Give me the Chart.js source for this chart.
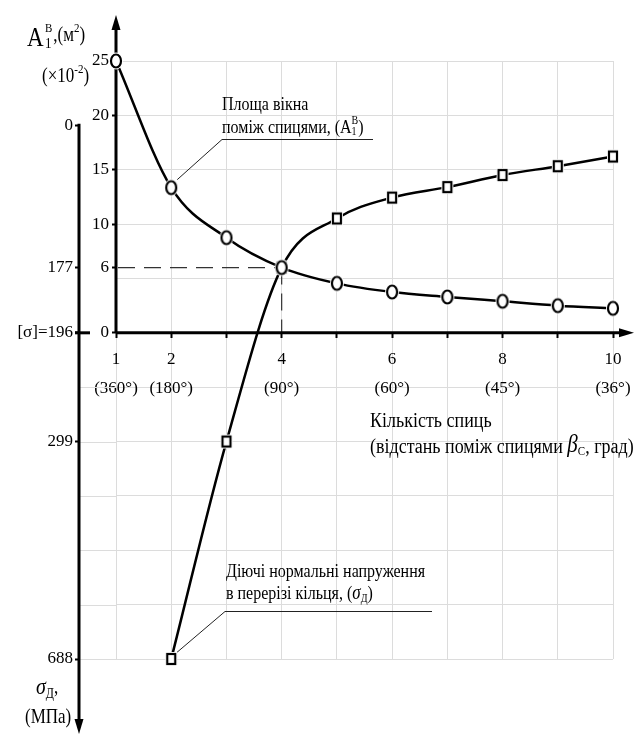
<!DOCTYPE html>
<html>
<head>
<meta charset="utf-8">
<script src="https://cdn.jsdelivr.net/npm/chart.js@4.4.0/dist/chart.umd.min.js"></script>
<style>
  html, body { margin: 0; padding: 0; background: #fff; }
  canvas { display: block; }
</style>
</head>
<body>
<canvas id="spokesChart" width="641" height="735"></canvas>
<script>
// number of spokes
const spokes = [1, 2, 3, 4, 5, 6, 7, 8, 9, 10];
// angle between spokes, shown under the labelled ticks
const spokeAngles = ['360°', '180°', null, '90°', null, '60°', null, '45°', null, '36°'];
// window area between spokes, x10^-2 m^2
const areaValues = [25, 13.35, 8.75, 6, 4.55, 3.75, 3.3, 2.9, 2.5, 2.25];
// acting normal stress in the ring section, MPa (no value for one spoke)
const stressValues = [null, 688, 299, 177, 116, 90, 77, 62, 51, 39];
// ticks of both vertical axes
const areaTicks = [0, 6, 10, 15, 20, 25];
const stressTicks = [0, 177, 196, 299, 688];

const FONT = "'Liberation Serif', 'Times New Roman', serif";
const GRID = '#dcdcdc';

// piecewise stress axis: the original drawing spaces its stress ticks unevenly,
// so each stress tick is pinned to a level of the area scale
class PiecewiseScale extends Chart.LinearScale {
  static id = 'piecewise';
  static defaults = Chart.LinearScale.defaults;
  buildTicks() {
    return this.options.anchors.map(a => ({ value: a[0] }));
  }
  toArea(v) {
    const a = this.options.anchors;
    for (let i = 1; i < a.length; i++) {
      if (v <= a[i][0] || i === a.length - 1) {
        const t = (v - a[i - 1][0]) / (a[i][0] - a[i - 1][0]);
        return a[i - 1][1] + t * (a[i][1] - a[i - 1][1]);
      }
    }
    return a[0][1];
  }
  getPixelForValue(v) {
    return this.chart.scales.y.getPixelForValue(this.toArea(v));
  }
  getValueForPixel() {
    return 0;
  }
}
Chart.register(PiecewiseScale);

function marker(kind) {
  const c = document.createElement('canvas');
  c.width = 18; c.height = 20;
  const g = c.getContext('2d');
  g.fillStyle = '#fff';
  g.strokeStyle = '#000';
  g.lineWidth = 2.2;
  if (kind === 'circle') {
    g.beginPath(); g.ellipse(9, 10, 7, 8.5, 0, 0, Math.PI * 2); g.fill();
    g.beginPath(); g.ellipse(9, 10, 5, 6.5, 0, 0, Math.PI * 2); g.fill(); g.stroke();
  } else {
    g.fillRect(3, 3, 12, 14);
    g.strokeRect(5, 5, 8, 10);
  }
  return c;
}

// text with simple sub/superscripts, a bit tall like the original
function runs(ctx, x, y, parts) {
  let cx = x;
  parts.forEach(p => {
    ctx.font = (p.italic ? 'italic ' : '') + (p.size || 17) + 'px ' + FONT;
    ctx.save();
    ctx.translate(cx, y + (p.dy || 0));
    ctx.scale(1, 1.2);
    ctx.fillText(p.t, 0, 0);
    ctx.restore();
    if (!p.keep) cx += ctx.measureText(p.t).width;
  });
  return cx;
}

function seg(ctx, x1, y1, x2, y2) {
  ctx.beginPath(); ctx.moveTo(x1, y1); ctx.lineTo(x2, y2); ctx.stroke();
}

function arrowHead(ctx, x, y, dir) {
  ctx.beginPath();
  if (dir === 'up') { ctx.moveTo(x, y); ctx.lineTo(x - 4.5, y + 15); ctx.lineTo(x + 4.5, y + 15); }
  if (dir === 'down') { ctx.moveTo(x, y); ctx.lineTo(x - 4.5, y - 15); ctx.lineTo(x + 4.5, y - 15); }
  if (dir === 'right') { ctx.moveTo(x, y); ctx.lineTo(x - 15, y - 4.5); ctx.lineTo(x - 15, y + 4.5); }
  ctx.closePath();
  ctx.fill();
}

const decor = {
  id: 'decor',
  beforeDatasetsDraw(chart) {
    const { ctx, chartArea: ca, scales: { x, y, stress } } = chart;
    const x0 = x.getPixelForValue(1);
    const y0 = y.getPixelForValue(0);
    const sx = stress.right;
    ctx.save();
    // horizontal grid continues to the stress axis below zero
    ctx.strokeStyle = GRID; ctx.lineWidth = 1;
    y.ticks.forEach(t => {
      if (t.value < 0) {
        const py = Math.round(y.getPixelForValue(t.value)) + 0.5;
        seg(ctx, sx, py, ca.left, py);
      }
    });
    // dashed guides to the crossing point
    const px = x.getPixelForValue(spokes[3]);
    const py = y.getPixelForValue(areaValues[3]);
    ctx.strokeStyle = '#333'; ctx.lineWidth = 1.2; ctx.setLineDash([17, 9]);
    seg(ctx, x0 + 2, py, px, py);
    seg(ctx, px, py, px, y0);
    ctx.setLineDash([]);
    // axes
    ctx.strokeStyle = '#000'; ctx.fillStyle = '#000'; ctx.lineWidth = 3;
    seg(ctx, x0, y0, x0, ca.top - 33);
    arrowHead(ctx, x0, ca.top - 46, 'up');
    seg(ctx, x0, y0, ca.right + 8, y0);
    arrowHead(ctx, ca.right + 21, y0, 'right');
    const s0 = stress.getPixelForValue(0);
    seg(ctx, sx, s0 - 1.5, sx, chart.height - 16);
    arrowHead(ctx, sx, chart.height - 1, 'down');
    seg(ctx, sx - 4, y0, sx + 11, y0);
    // leader lines
    ctx.strokeStyle = '#222'; ctx.lineWidth = 1;
    seg(ctx, 222, 139.5, 373, 139.5);
    seg(ctx, 222, 139.5, x.getPixelForValue(2) + 6, y.getPixelForValue(areaValues[1]) - 8);
    seg(ctx, 225, 611.5, 432, 611.5);
    seg(ctx, 225, 611.5, x.getPixelForValue(2) + 5, stress.getPixelForValue(stressValues[1]) - 6);
    ctx.restore();
  },
  afterDraw(chart) {
    const { ctx } = chart;
    ctx.save();
    ctx.fillStyle = '#000';
    ctx.textBaseline = 'middle';
    ctx.textAlign = 'left';
    // area axis title
    runs(ctx, 27, 39, [{ t: 'A', size: 23 }]);
    runs(ctx, 45, 44, [{ t: '1', size: 13, keep: true }]);
    let cx = runs(ctx, 45, 29, [{ t: 'В', size: 11 }]);
    cx = runs(ctx, cx + 1, 36, [{ t: ',(м', size: 17 }]);
    cx = runs(ctx, cx, 29, [{ t: '2', size: 11 }]);
    runs(ctx, cx, 36, [{ t: ')', size: 17 }]);
    cx = runs(ctx, 42, 77, [{ t: '(×10', size: 17 }]);
    cx = runs(ctx, cx, 70, [{ t: '-2', size: 11 }]);
    runs(ctx, cx, 77, [{ t: ')', size: 17 }]);
    // stress axis title
    cx = runs(ctx, 36, 688, [{ t: 'σ', size: 20, italic: true }]);
    cx = runs(ctx, cx, 694, [{ t: 'Д', size: 12 }]);
    runs(ctx, cx, 688, [{ t: ',', size: 17 }]);
    runs(ctx, 25, 718, [{ t: '(МПа)', size: 17 }]);
    // x axis title
    runs(ctx, 370, 421, [{ t: 'Кількість спиць', size: 18 }]);
    cx = runs(ctx, 370, 447, [{ t: '(відстань поміж спицями ', size: 18 }]);
    cx = runs(ctx, cx, 445, [{ t: 'β', size: 21, italic: true }]);
    cx = runs(ctx, cx, 452, [{ t: 'С', size: 11 }]);
    runs(ctx, cx, 447, [{ t: ', град)', size: 18 }]);
    // series notes
    runs(ctx, 222, 105, [{ t: 'Площа вікна', size: 16 }]);
    cx = runs(ctx, 222, 128, [{ t: 'поміж спицями, (A', size: 16 }]);
    runs(ctx, cx, 132, [{ t: '1', size: 10, keep: true }]);
    cx = runs(ctx, cx, 121, [{ t: 'В', size: 10 }]);
    runs(ctx, cx, 128, [{ t: ')', size: 16 }]);
    runs(ctx, 226, 572, [{ t: 'Діючі нормальні напруження', size: 16 }]);
    cx = runs(ctx, 226, 594, [{ t: 'в перерізі кільця, (', size: 16 }]);
    cx = runs(ctx, cx, 594, [{ t: 'σ', size: 17, italic: true }]);
    cx = runs(ctx, cx, 599, [{ t: 'Д', size: 10 }]);
    runs(ctx, cx, 594, [{ t: ')', size: 16 }]);
    ctx.restore();
  }
};

const tickFont = { family: FONT, size: 17, lineHeight: 1.7 };

new Chart(document.getElementById('spokesChart'), {
  type: 'line',
  data: {
    datasets: [
      {
        label: 'Площа вікна поміж спицями',
        data: spokes.map((n, i) => ({ x: n, y: areaValues[i] })),
        yAxisID: 'y',
        borderColor: '#000',
        pointStyle: marker('circle'),
      },
      {
        label: 'Діючі нормальні напруження',
        data: spokes.map((n, i) => ({ x: n, y: stressValues[i] })).filter(p => p.y !== null),
        yAxisID: 'stress',
        borderColor: '#000',
        pointStyle: marker('square'),
      },
    ],
  },
  options: {
    responsive: false,
    animation: false,
    events: [],
    layout: { padding: { top: 61, right: 28, bottom: 76, left: 0 } },
    datasets: {
      line: {
        borderWidth: 2.5,
        cubicInterpolationMode: 'monotone',
        fill: false,
        clip: false,
        pointRadius: 6,
      },
    },
    plugins: { legend: { display: false }, tooltip: { enabled: false }, colors: { enabled: false } },
    scales: {
      x: {
        type: 'linear',
        min: 1,
        max: 10,
        position: { y: 0 },
        border: { display: false },
        grid: { color: GRID, tickColor: '#000', tickLength: 5, tickWidth: 2 },
        ticks: {
          stepSize: 1,
          autoSkip: false,
          maxRotation: 0,
          padding: 7,
          color: '#000',
          font: tickFont,
          callback: v => (spokeAngles[v - 1] ? [String(v), '(' + spokeAngles[v - 1] + ')'] : ''),
        },
      },
      y: {
        type: 'linear',
        position: 'left',
        weight: 0,
        min: -30,
        max: 25,
        border: { display: false },
        afterBuildTicks: s => {
          const t = [];
          for (let v = -30; v <= 25; v += 5) t.push(v);
          s.ticks = t.concat(6).sort((a, b) => a - b).map(v => ({ value: v }));
        },
        afterFit: s => { s.width = 37; },
        grid: {
          color: c => (c.tick && c.tick.value === 6 ? 'rgba(0,0,0,0)' : GRID),
          tickColor: c => (c.tick && areaTicks.includes(c.tick.value) ? '#000' : 'rgba(0,0,0,0)'),
          tickLength: 4,
          tickWidth: 2,
        },
        ticks: {
          autoSkip: false,
          padding: 3,
          color: '#000',
          font: { family: FONT, size: 17 },
          callback: v => (areaTicks.includes(v) ? String(v) : ''),
        },
      },
      stress: {
        type: 'piecewise',
        position: 'left',
        weight: 1,
        anchors: stressTicks.map((v, i) => [v, [19.1, 6, 0, -10, -30][i]]),
        border: { display: false },
        afterFit: s => { s.width = 79; },
        grid: { drawOnChartArea: false, tickColor: '#000', tickLength: 4, tickWidth: 2 },
        ticks: {
          autoSkip: false,
          padding: 2,
          color: '#000',
          font: { family: FONT, size: 17 },
          callback: v => (v === 196 ? '[σ]=196' : String(v)),
        },
      },
    },
  },
  plugins: [decor],
});
</script>
</body>
</html>
